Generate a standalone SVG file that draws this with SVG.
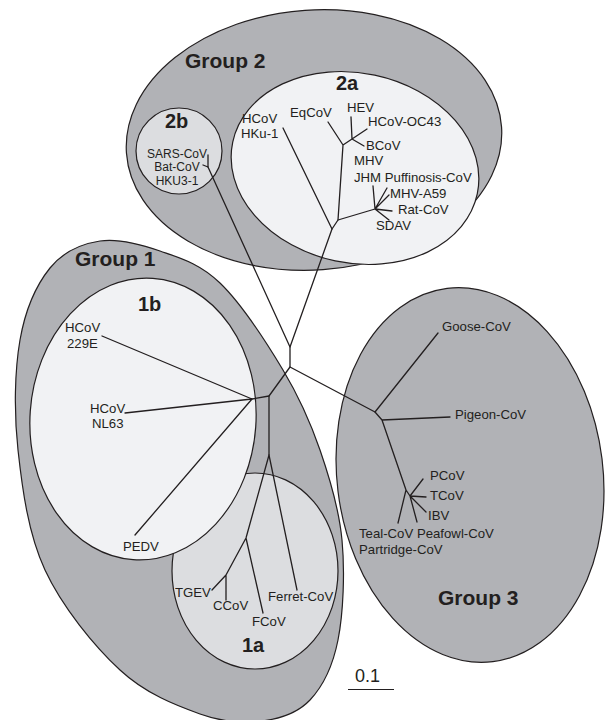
<svg xmlns="http://www.w3.org/2000/svg" width="605" height="720" viewBox="0 0 605 720">
<style>
.reg{stroke:#231f20;stroke-width:1.2}
.g{fill:#b1b2b6}
.l{fill:#f1f2f4}
.m{fill:#dcdde0}
.t{font-family:"Liberation Sans",Arial,sans-serif;font-size:13.2px;fill:#231f20}
.s{font-size:12px}
.b{font-family:"Liberation Sans",Arial,sans-serif;font-size:20px;font-weight:bold;fill:#231f20}
.tree{fill:none;stroke:#231f20;stroke-width:1.3;stroke-linejoin:round;stroke-linecap:round}
</style>
<rect width="605" height="720" fill="#ffffff"/>

<g id="group2">
<ellipse class="reg g" cx="314" cy="140" rx="188" ry="130" transform="rotate(-4 314 140)"/>
<text class="b" x="185" y="68" style="font-size:21px">Group 2</text>
</g>
<g id="clade2a">
<ellipse class="reg l" cx="355" cy="168" rx="125" ry="95" transform="rotate(12 355 168)"/>
<text class="b" x="336" y="90">2a</text>
</g>
<g id="clade2b">
<circle class="reg m" cx="179" cy="151" r="43"/>
<text class="b" x="165" y="128">2b</text>
</g>

<g id="group1">
<path class="reg g" d="M100,241 C118.3,238.2 140,244 160,251 C180,258 199.5,263.2 220,283 C240.5,302.8 266.3,342.2 283,370 C299.7,397.8 310.2,421.7 320,450 C329.8,478.3 339,508.3 342,540 C345,571.7 343.3,613.3 338,640 C332.7,666.7 322.7,686.5 310,700 C297.3,713.5 280.3,718.7 262,721 C243.7,723.3 223.7,722.5 200,714 C176.3,705.5 145.8,694 120,670 C94.2,646 62,606.7 45,570 C28,533.3 22.2,488.3 18,450 C13.8,411.7 14.7,370.3 20,340 C25.3,309.7 36.7,284.5 50,268 C63.3,251.5 81.7,243.8 100,241 Z"/>
<text class="b" x="75" y="266" style="font-size:21px">Group 1</text>
</g>
<g id="clade1a">
<ellipse class="reg m" cx="255" cy="571" rx="83" ry="98"/>
<text class="b" x="242" y="652">1a</text>
</g>
<g id="clade1b">
<ellipse class="reg l" cx="143" cy="419" rx="113" ry="141" transform="rotate(4 143 419)"/>
<text class="b" x="138" y="311">1b</text>
</g>

<g id="group3">
<ellipse class="reg g" cx="470" cy="475" rx="133" ry="188" transform="rotate(-7 470 475)"/>
<text class="b" x="438" y="605" style="font-size:21px">Group 3</text>
</g>

<g id="connectors">
<path class="tree" d="M208,167 L290,347 L290,367 L269,396 L252,399"/>
<path class="tree" d="M290,347 L332,229"/>
<path class="tree" d="M290,367 L375,412"/>
<path class="tree" d="M269,396 L269,455"/>
<path class="tree" d="M208,155 L208,167 M203,165 L208,167"/>
<path class="tree" d="M283,128 L332,229 L338,220 L343,145 L328,122 M343,145 L352,139 L351,117 M352,139 L367,129 M352,139 L364,146"/>
<path class="tree" d="M338,220 L375,209 L373,186 M375,209 L387,188 M375,209 L389,195 M375,209 L392,211 M375,209 L389,220"/>
<path class="tree" d="M102,336 L252,399 L125,413 M252,399 L135,535"/>
<path class="tree" d="M269,455 L246,538 L226,575 L212,590 M226,575 L226,600 M246,538 L263,613 M269,455 L297,590"/>
<path class="tree" d="M438,333 L375,412 L382,420 L450,417 M382,420 L406,490 L398,523 M406,490 L410,496 L423,479 M410,496 L426,497 M410,496 L426,512 M410,496 L417,522"/>
<path class="tree" d="M348,689.5 L394,689.5" style="stroke-width:1.2;stroke-linecap:butt"/>
</g>

<g id="labels2a">
<text class="t" x="242" y="123">HCoV</text>
<text class="t" x="241" y="138">HKu-1</text>
<text class="t" x="290" y="117">EqCoV</text>
<text class="t" x="347" y="112">HEV</text>
<text class="t" x="368" y="126">HCoV-OC43</text>
<text class="t" x="366" y="150">BCoV</text>
<text class="t" x="354" y="165">MHV</text>
<text class="t" x="354" y="182">JHM Puffinosis-CoV</text>
<text class="t" x="390" y="198">MHV-A59</text>
<text class="t" x="398" y="214">Rat-CoV</text>
<text class="t" x="376" y="230">SDAV</text>
</g>
<g id="labels2b">
<text class="t s" x="177" y="157.5" text-anchor="middle">SARS-CoV</text>
<text class="t s" x="177" y="171" text-anchor="middle">Bat-CoV</text>
<text class="t s" x="177" y="184.5" text-anchor="middle">HKU3-1</text>
</g>
<g id="labels1b">
<text class="t" x="65" y="332">HCoV</text>
<text class="t" x="67" y="348">229E</text>
<text class="t" x="90" y="413">HCoV</text>
<text class="t" x="92" y="428">NL63</text>
<text class="t" x="123" y="551">PEDV</text>
</g>
<g id="labels1a">
<text class="t" x="175" y="597">TGEV</text>
<text class="t" x="213" y="610">CCoV</text>
<text class="t" x="252" y="626">FCoV</text>
<text class="t" x="268" y="601">Ferret-CoV</text>
</g>
<g id="labels3">
<text class="t" x="442" y="331">Goose-CoV</text>
<text class="t" x="455" y="419">Pigeon-CoV</text>
<text class="t" x="430" y="480">PCoV</text>
<text class="t" x="430" y="500">TCoV</text>
<text class="t" x="428" y="520">IBV</text>
<text class="t" x="359" y="538">Teal-CoV Peafowl-CoV</text>
<text class="t" x="359" y="554">Partridge-CoV</text>
</g>
<g id="scale">
<text class="t" x="355" y="682" style="font-size:18px">0.1</text>
</g>
</svg>
